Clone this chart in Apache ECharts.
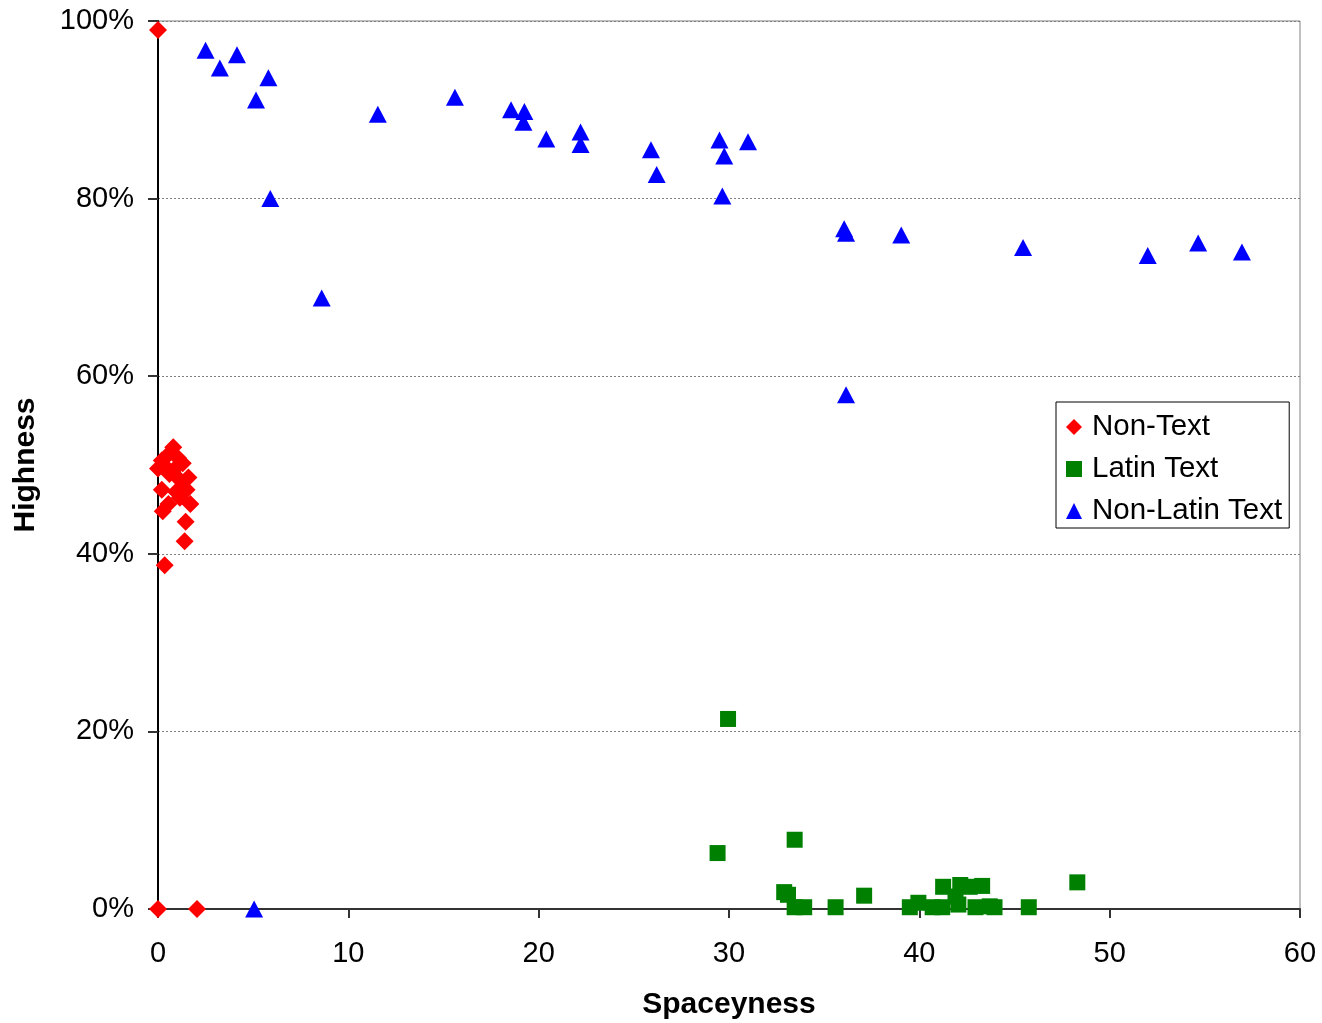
<!DOCTYPE html>
<html><head><meta charset="utf-8">
<script src="https://cdn.jsdelivr.net/npm/echarts@6/dist/echarts.min.js"></script>
<style>html,body{margin:0;padding:0;background:#fff}#c{width:1322px;height:1023px}</style>
</head><body><div id="c"></div>
<script>
// Spaceyness (x) and Highness in % (y)
const nonTextX = [0.8,0.5,0.2,0,0.3,1.05,1.3,1.6,1.15,0.6,0.9,0.2,1.5,0.95,1.7,0.55,0.25,1.15,1.45,1.4,0.35,0,0,2.05];
const nonTextY = [52.0,51.1,50.5,49.6,50.0,50.8,50.2,48.6,48.3,49.0,49.6,47.2,47.2,47.0,45.6,45.6,44.8,46.3,43.6,41.4,38.7,99.0,0,0];

const latinX = [29.95,29.4,33.45,32.9,33.1,33.45,33.95,35.6,37.1,39.5,39.95,40.7,41.2,41.25,41.9,42.05,42.15,42.65,43.3,42.95,43.7,43.95,45.75,48.3];
const latinY = [21.4,6.3,7.8,1.9,1.6,0.2,0.2,0.2,1.5,0.2,0.7,0.2,0.2,2.5,1.4,0.5,2.7,2.5,2.6,0.2,0.3,0.2,0.2,3.0];

const nonLatinX = [2.5,3.25,4.15,5.15,5.8,5.9,8.6,11.55,15.6,18.55,19.25,19.2,20.4,22.2,22.2,25.9,26.2,29.5,29.75,29.65,31.0,36.05,36.15,36.15,39.05,45.45,52.0,54.65,56.95,5.05];
const nonLatinY = [96.7,94.7,96.2,91.1,93.6,80.0,68.8,89.5,91.4,90.0,89.8,88.6,86.7,87.5,86.1,85.5,82.7,86.6,84.8,80.3,86.4,76.6,76.1,57.9,75.9,74.5,73.6,75.0,74.0,0];

const seriesNames = ['Non-Text','Latin Text','Non-Latin Text'];
const xTitle = 'Spaceyness';
const yTitle = 'Highness';

const zip = (xs, ys) => xs.map((x, i) => [x, ys[i]]);
const FONT = 'Liberation Sans, Arial, sans-serif';

const chart = echarts.init(document.getElementById('c'));
chart.setOption({
  animation: false,
  backgroundColor: '#fff',
  grid: { left: 158, right: 22, top: 21, bottom: 114, show: true, borderColor: '#808080', borderWidth: 1,
          containLabel: false, outerBoundsMode: 'none' },
  legend: {
    orient: 'vertical', left: 1056, top: 402,
    padding: [10, 7, 2, 10],
    itemWidth: 16, itemHeight: 16, itemGap: 12,
    borderColor: '#000', borderWidth: 1, backgroundColor: '#fff',
    textStyle: { fontFamily: FONT, fontSize: 29.5, color: '#000', lineHeight: 30, padding: [0, 0, 0, 5] },
    data: [
      { name: seriesNames[0], icon: 'diamond' },
      { name: seriesNames[1], icon: 'rect' },
      { name: seriesNames[2], icon: 'triangle' }
    ]
  },
  xAxis: {
    type: 'value', min: 0, max: 60, interval: 10,
    name: xTitle, nameLocation: 'middle', nameGap: 81,
    nameTextStyle: { fontFamily: FONT, fontSize: 30, fontWeight: 'bold', color: '#000' },
    axisLine: { show: true, onZero: false, lineStyle: { color: '#333', width: 2 } },
    axisTick: { show: true, length: 9, lineStyle: { color: '#333', width: 2 } },
    axisLabel: { fontFamily: FONT, fontSize: 29, color: '#000', margin: 30 },
    splitLine: { show: false }
  },
  yAxis: {
    type: 'value', min: 0, max: 100, interval: 20,
    name: yTitle, nameLocation: 'middle', nameGap: 117, nameRotate: 90,
    nameTextStyle: { fontFamily: FONT, fontSize: 30, fontWeight: 'bold', color: '#000' },
    axisLine: { show: true, onZero: false, lineStyle: { color: '#000', width: 2 } },
    axisTick: { show: true, length: 10, lineStyle: { color: '#333', width: 2 } },
    axisLabel: { fontFamily: FONT, fontSize: 29, color: '#000', margin: 24, formatter: '{value}%' },
    splitLine: { show: true, lineStyle: { color: '#808080', width: 1, type: [2, 2] } }
  },
  series: [
    { name: seriesNames[0], type: 'scatter', symbol: 'diamond', symbolSize: [18, 18],
      itemStyle: { color: '#ff0000', opacity: 1 }, data: zip(nonTextX, nonTextY) },
    { name: seriesNames[1], type: 'scatter', symbol: 'rect', symbolSize: 16,
      itemStyle: { color: '#008000', opacity: 1 }, data: zip(latinX, latinY) },
    { name: seriesNames[2], type: 'scatter', symbol: 'triangle', symbolSize: [18, 17],
      itemStyle: { color: '#0000ff', opacity: 1 }, data: zip(nonLatinX, nonLatinY) }
  ]
});
</script></body></html>
